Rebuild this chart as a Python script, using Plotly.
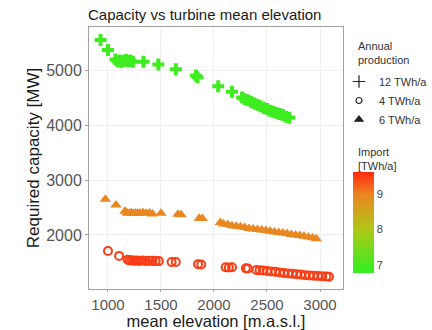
import plotly.graph_objects as go

# ---- data ----
elev_12 = [930, 1000, 1070, 1090, 1110, 1130, 1150, 1170, 1190, 1210, 1235, 1335, 1475, 1640, 1830, 1845,
           2040, 2170, 2265, 2290, 2320, 2350, 2380, 2410, 2440, 2470, 2500, 2530, 2560, 2590, 2620, 2650,
           2680, 2710]
cap_12 = [5545, 5365, 5190, 5160, 5175, 5150, 5170, 5180, 5160, 5175, 5150, 5150, 5100, 5015, 4900, 4870,
          4705, 4605, 4500, 4470, 4450, 4420, 4390, 4370, 4340, 4310, 4290, 4260, 4240, 4220, 4200, 4180,
          4150, 4130]
import_12 = 6.9

elev_6 = [975, 1075, 1160, 1180, 1200, 1220, 1240, 1260, 1280, 1300, 1330, 1360, 1390, 1420, 1500, 1660,
          1690, 1860, 1890, 2060, 2090, 2130, 2170, 2210, 2250, 2290, 2330, 2370, 2410, 2450, 2490, 2530,
          2570, 2610, 2650, 2690, 2730, 2770, 2810, 2850, 2890, 2930, 2965]
cap_6 = [2650, 2545, 2430, 2400, 2395, 2410, 2390, 2400, 2395, 2400, 2410, 2395, 2400, 2380, 2395, 2375,
         2370, 2305, 2300, 2225, 2200, 2190, 2170, 2160, 2150, 2135, 2120, 2110, 2100, 2090, 2080, 2070,
         2055, 2045, 2035, 2025, 2010, 2000, 1990, 1975, 1965, 1950, 1930]
import_6 = 8.95

elev_4 = [1000, 1105, 1185, 1205, 1225, 1245, 1265, 1285, 1305, 1330, 1360, 1390, 1420, 1450, 1480, 1600,
          1640, 1850, 1880, 2110, 2140, 2170, 2300, 2320, 2400, 2430, 2460, 2500, 2540, 2580, 2620, 2660,
          2700, 2740, 2780, 2820, 2860, 2900, 2940, 2980, 3020, 3060, 3085]
cap_4 = [1710, 1620, 1550, 1535, 1540, 1530, 1535, 1530, 1530, 1535, 1525, 1530, 1530, 1525, 1525, 1510,
         1510, 1470, 1465, 1415, 1410, 1415, 1395, 1390, 1365, 1360, 1355, 1345, 1335, 1330, 1320, 1310,
         1300, 1295, 1285, 1280, 1270, 1265, 1260, 1255, 1250, 1245, 1240]
import_4 = 9.5

legend_labels = ["12 TWh/a", "4 TWh/a", "6 TWh/a"]
x_ticks = [1000, 1500, 2000, 2500, 3000]
y_ticks = [2000, 3000, 4000, 5000]
cbar_ticks = [7, 8, 9]

# ---- figure ----
colorscale = [[0, "#30f020"], [0.43, "#b0c818"], [0.78, "#ec8420"], [1, "#ff2a10"]]
FONT = "Liberation Sans, Arial, sans-serif"
PL, PR, PT, PB = 89, 343, 27, 289
PW, PH = PR - PL, PB - PT


def px_x(p):
    return (p - PL) / PW


def px_y(p):
    return 1 - (p - PT) / PH


fig = go.Figure()

fig.add_trace(go.Scatter(
    x=elev_12, y=cap_12, mode="markers", showlegend=False, hoverinfo="skip",
    marker=dict(symbol="cross", size=10, color=[import_12] * len(elev_12), coloraxis="coloraxis",
                line=dict(width=0))))
fig.add_trace(go.Scatter(
    x=elev_6, y=cap_6, mode="markers", showlegend=False, hoverinfo="skip",
    marker=dict(symbol="triangle-up", size=10, color=[import_6] * len(elev_6), coloraxis="coloraxis",
                line=dict(width=0))))
fig.add_trace(go.Scatter(
    x=elev_4, y=cap_4, mode="markers", showlegend=False, hoverinfo="skip",
    marker=dict(symbol="circle-open", size=8, color=[import_4] * len(elev_4), coloraxis="coloraxis",
                line=dict(width=2))))

# legend entries (black shapes)
for lab, sym, sz in zip(legend_labels, ["cross-thin-open", "circle-open", "triangle-up"], [9, 6, 7]):
    fig.add_trace(go.Scatter(
        x=[None], y=[None], mode="markers", name=lab,
        marker=dict(symbol=sym, size=sz, color="#222222", line=dict(width=1.2, color="#222222"))))

fig.update_layout(
    width=432, height=330,
    margin=dict(l=PL, r=432 - PR, t=PT, b=330 - PB, autoexpand=False),
    paper_bgcolor="white", plot_bgcolor="white",
    font=dict(family=FONT, color="#222222"),
    title=dict(text="Capacity vs turbine mean elevation", x=88 / 432, xanchor="left",
               y=1 - 15 / 330, yanchor="middle", font=dict(size=15, color="#1a1a1a")),
    xaxis=dict(range=[821, 3217], tickvals=x_ticks, showgrid=True, gridcolor="#f0f0f0",
               zeroline=False, showline=True, mirror=True, linecolor="#a0a0a0", linewidth=1,
               ticks="outside", ticklen=2, tickcolor="#a0a0a0",
               tickfont=dict(size=15, color="#555555"),
               title=dict(text="mean elevation [m.a.s.l.]", font=dict(size=16.5, color="#1a1a1a"), standoff=0)),
    yaxis=dict(range=[1018, 5782], tickvals=y_ticks, showgrid=True, gridcolor="#f0f0f0",
               zeroline=False, showline=True, mirror=True, linecolor="#a0a0a0", linewidth=1,
               ticks="outside", ticklen=3, tickcolor="#a0a0a0",
               tickfont=dict(size=16, color="#555555"),
               title=dict(text="Required capacity [MW]", font=dict(size=17, color="#1a1a1a"), standoff=2)),
    coloraxis=dict(colorscale=colorscale, cmin=6.77, cmax=9.62,
                   colorbar=dict(x=px_x(353), xanchor="left", xref="paper",
                                 y=px_y(222.5), yanchor="middle",
                                 lenmode="pixels", len=101, thickness=21,
                                 tickvals=cbar_ticks, ticks="", outlinewidth=0,
                                 tickfont=dict(size=11, color="#444444"), ypad=0, xpad=0)),
    legend=dict(x=px_x(339), xanchor="left", y=px_y(67), yanchor="top",
                font=dict(size=11, color="#333333"), tracegroupgap=0, itemsizing="trace",
                itemwidth=30, bgcolor="rgba(0,0,0,0)"),
    annotations=[
        dict(text="Annual<br>production", xref="paper", yref="paper",
             x=px_x(356), xanchor="left", y=px_y(38), yanchor="top",
             showarrow=False, align="left", font=dict(size=11, color="#333333")),
        dict(text="Import<br>[TWh/a]", xref="paper", yref="paper",
             x=px_x(356), xanchor="left", y=px_y(144), yanchor="top",
             showarrow=False, align="left", font=dict(size=11, color="#333333")),
    ],
)

fig.write_html("out.html", config={"displayModeBar": False},
               post_script="document.body.style.margin='0px';")
